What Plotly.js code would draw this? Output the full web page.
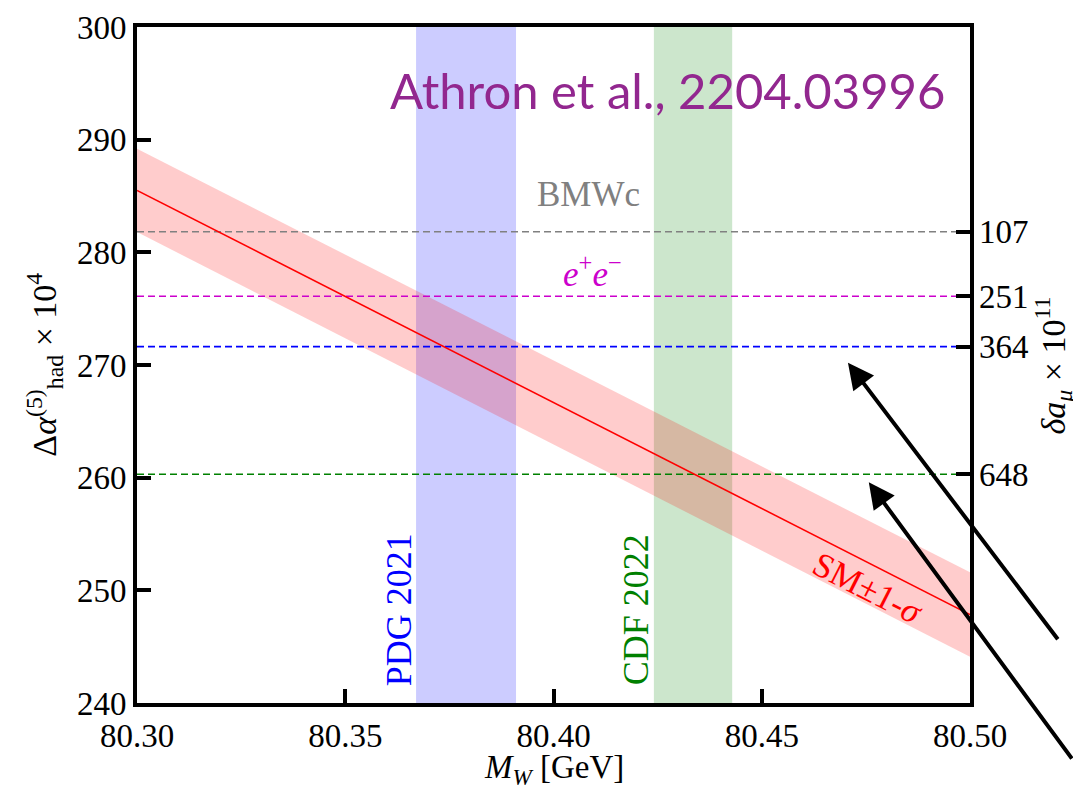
<!DOCTYPE html>
<html>
<head>
<meta charset="utf-8">
<script src="https://cdn.plot.ly/plotly-3.0.1.min.js"></script>
<style>
html,body{margin:0;padding:0;background:#fff;}
#chart{width:1073px;height:788px;}
</style>
</head>
<body>
<div id="chart"></div>
<script>
// ---- data ----
const xRange = [80.30, 80.50];
const yRange = [240, 300];
const xTicks = [80.30, 80.35, 80.40, 80.45, 80.50];
const yTicks = [240, 250, 260, 270, 280, 290, 300];

// SM prediction band (endpoints of the straight band)
const smX = [80.30, 80.50];
const smCentral = [285.5, 247.85];
const smUpper = [289.2, 251.6];
const smLower = [281.8, 244.1];

// W mass measurements (lo, hi)
const pdgBand = [80.367, 80.391];
const cdfBand = [80.4241, 80.4429];

// hadronic vacuum polarisation values (dashed lines) and right-axis labels
const hvpNames = ['BMWc', 'e+e-', 'PDG', 'CDF'];
const hvpValues = [281.83, 276.1, 271.63, 260.3];
const damuLabels = ['107', '251', '364', '648'];
const hvpColors = ['#808080', '#cc00cc', '#0000ff', '#008000'];

// arrows pointing at lines (head positions)
const arrowHeadX = [80.4707, 80.4757];
const arrowHeadY = [270.2, 259.6];

// ---- traces ----
const serif = 'Liberation Serif';
const traces = [];

function vband(b, color) {
  return {
    x: [b[0], b[0], b[1], b[1], b[0]],
    y: [yRange[0], yRange[1], yRange[1], yRange[0], yRange[0]],
    fill: 'toself', fillcolor: color, mode: 'lines',
    line: {width: 0, color: 'rgba(0,0,0,0)'}, hoverinfo: 'skip', showlegend: false
  };
}
traces.push(vband(pdgBand, 'rgba(0,0,255,0.2)'));
traces.push(vband(cdfBand, 'rgba(0,128,0,0.2)'));

// SM band
traces.push({
  x: smX.concat(smX.slice().reverse()).concat([smX[0]]),
  y: smUpper.concat(smLower.slice().reverse()).concat([smUpper[0]]),
  fill: 'toself', fillcolor: 'rgba(255,0,0,0.2)', mode: 'lines',
  line: {width: 0, color: 'rgba(0,0,0,0)'}, hoverinfo: 'skip', showlegend: false
});

hvpValues.forEach((v, i) => {
  traces.push({
    x: xRange, y: [v, v], mode: 'lines',
    line: {color: hvpColors[i], width: 1.6, dash: '7px,4px'},
    showlegend: false, hoverinfo: 'skip'
  });
});

traces.push({
  x: smX, y: smCentral, mode: 'lines',
  line: {color: '#ff0000', width: 1.6}, showlegend: false
});

// invisible trace to activate right axis
traces.push({x: xRange, y: yRange, yaxis: 'y2', mode: 'markers',
  marker: {opacity: 0}, showlegend: false, hoverinfo: 'skip'});

// ---- annotations ----
const ann = [];
ann.push({xref: 'paper', yref: 'paper', x: 0.972, y: 0.907, xanchor: 'right', yanchor: 'middle',
  text: 'Athron et al., 2204.03996', showarrow: false,
  font: {family: 'Lato', size: 49, color: '#92278f'}});
ann.push({x: 80.4083, y: 285.1, text: 'BMWc', showarrow: false,
  font: {family: serif, size: 35, color: '#808080'}});
ann.push({x: 80.4093, y: 278.3, text: '<i>e</i><sup>+</sup><i>e</i><sup>−</sup>', showarrow: false,
  font: {family: serif, size: 35, color: '#cc00cc'}});
ann.push({x: 80.3631, y: 248.3, text: 'PDG 2021', textangle: -90, showarrow: false,
  font: {family: serif, size: 36, color: '#0000ff'}});
ann.push({x: 80.4200, y: 248.3, text: 'CDF 2022', textangle: -90, showarrow: false,
  font: {family: serif, size: 36, color: '#008000'}});
ann.push({x: 80.4755, y: 250.2, text: 'SM±1-<i>σ</i>', textangle: 27, showarrow: false,
  font: {family: serif, size: 35, color: '#ff0000'}});

// axis titles
ann.push({xref: 'paper', yref: 'paper', x: 0.5, y: -0.099, xanchor: 'center', yanchor: 'middle',
  text: '<i>M</i><sub><i>W</i></sub> [GeV]', showarrow: false,
  font: {family: serif, size: 33, color: '#000'}});
ann.push({xref: 'paper', yref: 'paper', x: -0.112, y: 0.5, xanchor: 'center', yanchor: 'middle',
  textangle: -90, text: 'Δ<i>α</i><sup>(5)</sup><sub>had</sub> × 10<sup>4</sup>', showarrow: false,
  font: {family: serif, size: 34, color: '#000'}});
ann.push({xref: 'paper', yref: 'paper', x: 1.099, y: 0.5, xanchor: 'center', yanchor: 'middle',
  textangle: -90, text: '<i>δa</i><sub><i>μ</i></sub> × 10<sup>11</sup>', showarrow: false,
  font: {family: serif, size: 34, color: '#000'}});

// arrows
arrowHeadX.forEach((x, i) => {
  ann.push({x: x, y: arrowHeadY[i], text: '', showarrow: true, ax: 211, ay: 278,
    arrowhead: 2, arrowsize: 1.3, arrowwidth: 4, arrowcolor: '#000', standoff: 0});
});

function tf() { return {family: 'Liberation Serif', size: 33, color: '#000'}; }
const layout = {
  width: 1073, height: 788,
  margin: {l: 137, r: 103, t: 27, b: 85, pad: 0},
  paper_bgcolor: '#fff', plot_bgcolor: '#fff',
  showlegend: false,
  font: {family: 'Liberation Serif', size: 33, color: '#000'},
  xaxis: {
    range: xRange, tickvals: xTicks, ticktext: xTicks.map(v => v.toFixed(2)),
    ticks: 'inside', ticklen: 14, tickwidth: 4, tickcolor: '#000',
    showline: true, linewidth: 4, linecolor: '#000', mirror: true,
    showgrid: false, zeroline: false, tickfont: tf(), fixedrange: true
  },
  yaxis: {
    range: yRange, tickvals: yTicks, ticktext: yTicks.map(String),
    ticks: 'inside', ticklen: 14, tickwidth: 4, tickcolor: '#000',
    showline: true, linewidth: 4, linecolor: '#000', mirror: true,
    showgrid: false, zeroline: false, tickfont: tf(), fixedrange: true
  },
  yaxis2: {
    range: yRange, overlaying: 'y', side: 'right', tickvals: hvpValues, ticktext: damuLabels,
    ticks: 'inside', ticklen: 14, tickwidth: 4, tickcolor: '#000', ticklabelstandoff: 8,
    showline: false, showgrid: false, zeroline: false, tickfont: tf(), fixedrange: true
  },
  annotations: ann
};

Plotly.newPlot('chart', traces, layout, {displayModeBar: false, staticPlot: true});
</script>
</body>
</html>
